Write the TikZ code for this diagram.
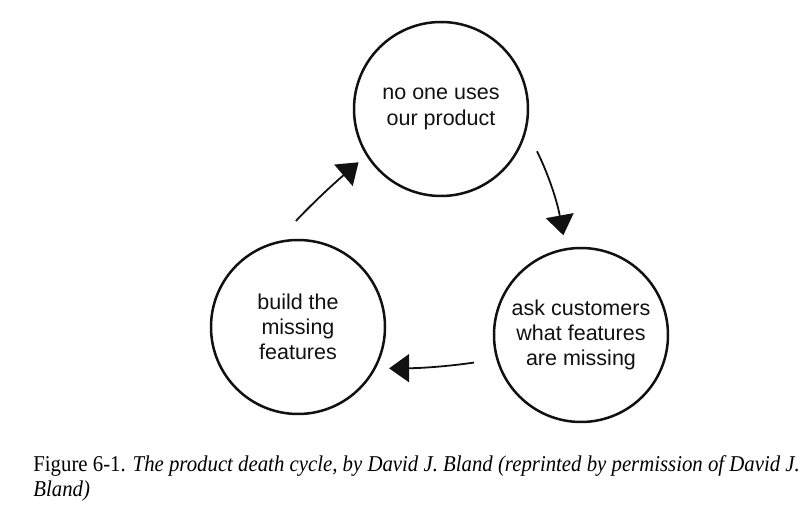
\documentclass[tikz,border=0pt]{standalone}
\usepackage{fontspec}
\setmainfont{Liberation Serif}
\newfontfamily\circlefont{Liberation Sans}
\newfontfamily\captionfont[FakeStretch=0.92]{Liberation Serif}
\usetikzlibrary{positioning, calc, arrows.meta}
\definecolor{Ink}{HTML}{111111}
\tikzset{
    stepnode/.style={circle, draw=Ink, line width=1.25pt, minimum size=87pt, inner sep=0pt, align=center, text=Ink, font=\circlefont\fontsize{10.75pt}{12.6pt}\selectfont},
    cyclearrow/.style={-{Triangle[length=10pt, width=14pt]}, line width=0.9pt, color=Ink},
}
\begin{document}
\begin{tikzpicture}[x=0.5pt, y=0.5pt]
    \useasboundingbox (0,0) rectangle (805,509);

    % I tre passi del ciclo
    \node[stepnode] (noone) at (441,400) {no one uses\\our product};
    \node[stepnode] (ask)   at (581,174) {ask customers\\what features\\are missing};
    \node[stepnode] (build) at (298,182) {build the\\missing\\features};

    % Frecce del ciclo (senso orario)
    \draw[cyclearrow, shorten <=14pt, shorten >=5pt] (build.104) to[bend left=3] (noone.212);
    \draw[cyclearrow, shorten <=11.7pt, shorten >=6.5pt] (noone.-14) to[bend left=8] (ask.100);
    \draw[cyclearrow, shorten <=11.2pt, shorten >=6.6pt] (ask.196) to[bend left=4] (build.-28);

    % Didascalia
    \node[anchor=base west, inner sep=0pt, align=left, font=\captionfont\fontsize{11.3pt}{12.5pt}\selectfont] (caption) at (33,12)
        {Figure 6-1. \textit{The product death cycle, by David J. Bland (reprinted by permission of David J.}\\\textit{Bland)}};
\end{tikzpicture}
\end{document}
